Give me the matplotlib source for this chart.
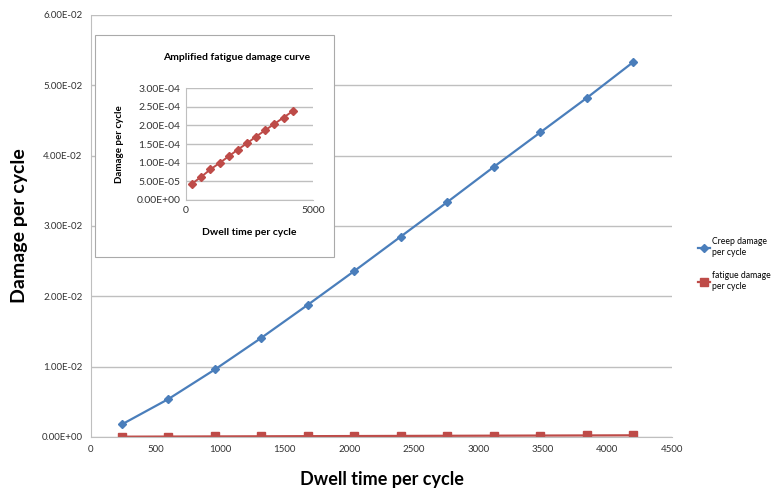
import matplotlib
matplotlib.use("Agg")
import matplotlib.pyplot as plt
from matplotlib.patches import Rectangle
from matplotlib.ticker import FuncFormatter, MultipleLocator

plt.rcParams['font.family'] = ['Lato', 'DejaVu Sans']

# dwell time per cycle and damage values
dwell = [240, 600, 960, 1320, 1680, 2040, 2400, 2760, 3120, 3480, 3840, 4200]
creep = [0.0018, 0.0054, 0.0096, 0.0141, 0.0188, 0.0236,
         0.0285, 0.0334, 0.0384, 0.0433, 0.0482, 0.0533]
fatigue = [4.4e-5, 6.2e-5, 8.2e-5, 9.9e-5, 1.17e-4, 1.35e-4,
           1.52e-4, 1.70e-4, 1.87e-4, 2.04e-4, 2.21e-4, 2.38e-4]

blue = '#4A7EBB'
red = '#BE4B48'
grid = '#BFBFBF'
sci = FuncFormatter(lambda v, p: f"{v:.2E}")

fig = plt.figure(figsize=(7.75, 4.91), dpi=100)
ax = fig.add_axes([0.1174, 0.11, 0.7496, 0.8595])
ax.plot(dwell, creep, color=blue, lw=1.6, marker='D', ms=4.5, label='Creep damage\nper cycle')
ax.plot(dwell, fatigue, color=red, lw=1.6, marker='s', ms=5.5, label='fatigue damage\nper cycle')
ax.set_xlim(0, 4500)
ax.set_ylim(0, 0.06)
ax.xaxis.set_major_locator(MultipleLocator(500))
ax.yaxis.set_major_locator(MultipleLocator(0.01))
ax.yaxis.set_major_formatter(sci)
ax.grid(axis='y', color=grid, lw=1)
ax.set_axisbelow(True)
for s in ['top', 'right']:
    ax.spines[s].set_visible(False)
ax.spines['left'].set_color(grid)
ax.spines['bottom'].set_color(grid)
ax.tick_params(length=0, labelsize=7, colors='#333333', pad=6)
ax.set_xlabel('Dwell time per cycle', fontsize=13, fontweight='bold', labelpad=12)
ax.set_ylabel('Damage per cycle', fontsize=14, fontweight='bold', labelpad=10)
fig.legend(loc='center left', bbox_to_anchor=(0.9, 0.462), frameon=False,
           fontsize=6.2, handlelength=1.5, labelspacing=1.7, handletextpad=0.2,
           borderpad=0, borderaxespad=0)

# inset box with the magnified fatigue curve
fig.patches.append(Rectangle((95 / 775, 234 / 491), 239 / 775, 222 / 491,
                             transform=fig.transFigure, facecolor='white',
                             edgecolor='#AAAAAA', lw=0.8, zorder=2))
ins = fig.add_axes([0.24, 0.5927, 0.1639, 0.228], zorder=3)
ins.plot(dwell, fatigue, color=red, lw=1.4, marker='D', ms=4)
ins.set_xlim(0, 5000)
ins.set_ylim(0, 3e-4)
ins.set_xticks([0, 5000])
ins.yaxis.set_major_locator(MultipleLocator(5e-5))
ins.yaxis.set_major_formatter(sci)
ins.grid(axis='y', color=grid, lw=1)
ins.set_axisbelow(True)
for s in ['top', 'right']:
    ins.spines[s].set_visible(False)
ins.spines['left'].set_color(grid)
ins.spines['bottom'].set_color(grid)
ins.tick_params(length=0, labelsize=7.5, colors='#333333', pad=4)
ins.set_title('Amplified fatigue damage curve', fontsize=7.5, fontweight='bold', pad=20, x=0.4)
ins.set_xlabel('Dwell time per cycle', fontsize=7.5, fontweight='bold', labelpad=10)
ins.set_ylabel('Damage per cycle', fontsize=7, fontweight='bold', labelpad=9)

fig.savefig('out.png', dpi=100)
